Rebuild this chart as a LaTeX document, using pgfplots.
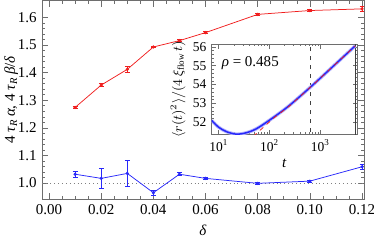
\documentclass[border=0pt]{standalone}
\usepackage{fontspec}
\setmainfont{Liberation Serif}
\usepackage{pgfplots}
\pgfplotsset{compat=1.18}
\definecolor{myred}{RGB}{240,30,30}
\definecolor{myblue}{RGB}{40,40,250}
\definecolor{frame}{RGB}{110,110,110}
\begin{document}
\begin{tikzpicture}
\useasboundingbox (0,0) rectangle (249.3pt,160pt);
\begin{axis}[
  at={(28pt,27.3pt)}, anchor=south west,
  scale only axis, width=214.7pt, height=132.3pt,
  xmin=-0.0027, xmax=0.1208, ymin=0.942, ymax=1.661,
  xtick={0,0.02,0.04,0.06,0.08,0.10,0.12},
  ytick={1.0,1.1,1.2,1.3,1.4,1.5,1.6},
  minor x tick num=3, minor y tick num=4,
  tick align=inside,
  axis line style={frame}, every tick/.style={frame, line width=0.4pt},
  major tick length=4pt, minor tick length=2pt,
  /pgf/number format/assume math mode=true,
  xticklabel style={/pgf/number format/.cd,fixed,fixed zerofill,precision=2},
  yticklabel style={/pgf/number format/.cd,fixed,fixed zerofill,precision=1},
  xlabel={\textit{δ}},
  ylabel={4 \textit{τ}\textsubscript{\textit{R}}\,\textit{α}, 4 \textit{τ}\textsubscript{\textit{R}}\,\textit{β}/\textit{δ}},
  every axis y label/.style={at={(axis description cs:-0.096,0.5)}, rotate=90, anchor=center},
  every axis x label/.style={at={(axis description cs:0.5,-0.16)}, anchor=center},
  clip=true,
]
\addplot[gray, dotted, line width=0.6pt, forget plot] coordinates {(-0.01,1) (0.13,1)};
\addplot[myred, line width=0.5pt, mark=*, mark size=0.8pt,
  error bars/.cd, y dir=both, y explicit,
  error bar style={line width=0.5pt},
  error mark options={rotate=90, mark size=1.6pt, line width=0.5pt}]
  coordinates {
  (0.01,1.274) +- (0,0.002)
  (0.02,1.355) +- (0,0.005)
  (0.03,1.412) +- (0,0.012)
  (0.04,1.493) +- (0,0.003)
  (0.05,1.516) +- (0,0.003)
  (0.06,1.545) +- (0,0.003)
  (0.08,1.611) +- (0,0.002)
  (0.10,1.625) +- (0,0.003)
  (0.12,1.631) +- (0,0.009)
  };
\addplot[myblue, line width=0.5pt, mark=*, mark size=0.8pt,
  error bars/.cd, y dir=both, y explicit,
  error bar style={line width=0.5pt},
  error mark options={rotate=90, mark size=1.6pt, line width=0.5pt}]
  coordinates {
  (0.01,1.032) +- (0,0.012)
  (0.02,1.017) +- (0,0.036)
  (0.03,1.035) +- (0,0.047)
  (0.04,0.965) +- (0,0.008)
  (0.05,1.032) +- (0,0.005)
  (0.06,1.017) +- (0,0.003)
  (0.08,0.999) +- (0,0.003)
  (0.10,1.007) +- (0,0.004)
  (0.12,1.059) +- (0,0.008)
  };
\end{axis}
\begin{axis}[
  at={(141.1pt,70.3pt)}, anchor=south west,
  scale only axis, width=96.9pt, height=60.3pt,
  xmode=log, xmin=7.3, xmax=5300, ymin=51.35, ymax=56.15,
  ytick={52,53,54,55,56},
  xtick={10,100,1000},
  xticklabels={10\textsuperscript{1},10\textsuperscript{2},10\textsuperscript{3}},
  minor y tick num=4,
  tick align=inside,
  axis line style={frame}, every tick/.style={frame, line width=0.4pt},
  major tick length=3pt, minor tick length=1.5pt,
  /pgf/number format/assume math mode=true,
  axis background/.style={fill=white},
  tick label style={font=\small},
  xlabel={\textit{t}},
  ylabel={$\langle r(t)^2\rangle/(4\,\xi_{\mathrm{flow}}\,t)$},
  ylabel style={font=\small, yshift=-2pt},
  xlabel style={yshift=2pt},
  clip=true,
]
\addplot[black!75, dashed, line width=0.5pt] coordinates {(637,51) (637,57)};
\addplot[black!75, line width=0.5pt] coordinates {(4853,51) (4853,57)};
\addplot[myblue!35, line width=2.2pt, smooth] coordinates {
  (7.29,52.10) (10,51.74) (14.35,51.50) (22.5,51.37) (35.4,51.45)
  (55.6,51.66) (104.8,52.15) (236,52.85) (637,53.86) (1571,54.83) (4853,56.05)};
\addplot[myblue, line width=1pt, smooth] coordinates {
  (7.29,52.10) (10,51.74) (14.35,51.50) (22.5,51.37) (35.4,51.45)
  (55.6,51.66) (104.8,52.15) (236,52.85) (637,53.86) (1571,54.83) (4853,56.05)};
\addplot[myred, dashed, line width=0.5pt, smooth] coordinates {
  (48,51.25) (129,52.28) (236,52.82) (637,53.86) (1571,54.83) (4853,56.05)};
\node[font=\normalsize] at (axis cs:42,55.15) {\textit{ρ} = 0.485};
\end{axis}
\end{tikzpicture}
\end{document}
